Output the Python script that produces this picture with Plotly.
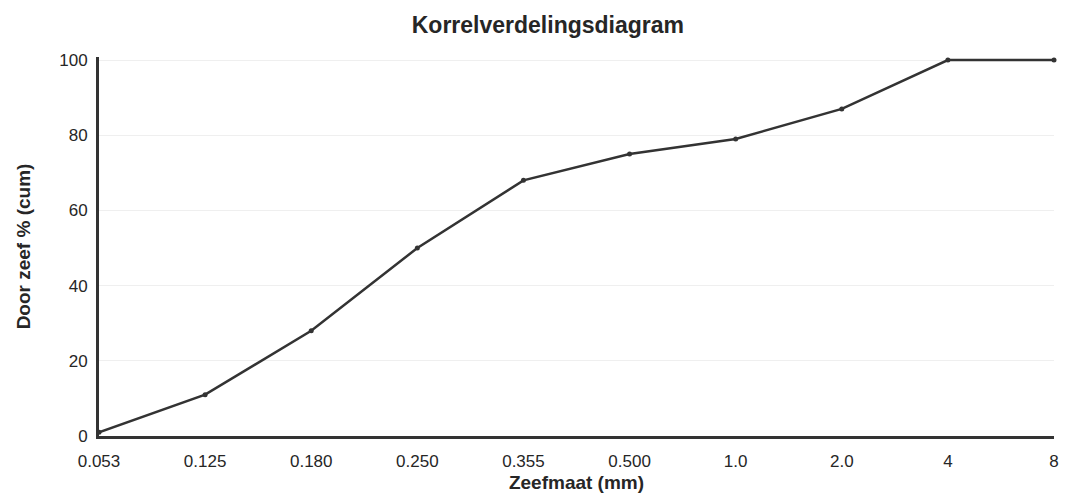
import plotly.graph_objects as go

sieve_sizes = ["0.053", "0.125", "0.180", "0.250", "0.355", "0.500", "1.0", "2.0", "4", "8"]
passing_cum = [1, 11, 28, 50, 68, 75, 79, 87, 100, 100]
y_ticks = [0, 20, 40, 60, 80, 100]

ink = "#333333"
text_ink = "#262626"
font_family = "Liberation Sans, Arial, sans-serif"

fig = go.Figure()
fig.add_trace(go.Scatter(
    x=sieve_sizes, y=passing_cum, mode="lines+markers",
    line=dict(color=ink, width=2.5),
    marker=dict(color=ink, size=5),
    showlegend=False, cliponaxis=False,
))

fig.update_layout(
    width=1068, height=500,
    margin=dict(l=99, r=9, t=57, b=63),
    paper_bgcolor="white", plot_bgcolor="white",
    font=dict(family=font_family, color=text_ink, size=17),
    title=dict(text="<b>Korrelverdelingsdiagram</b>", x=0.513, xanchor="center",
               y=0.95, yanchor="middle", font=dict(size=23, color=text_ink)),
    xaxis=dict(
        type="category", range=[0, 9],
        showline=True, linecolor=ink, linewidth=3,
        showgrid=False, ticks="outside", ticklen=8, tickcolor="white",
        zeroline=False,
        tickfont=dict(size=17, color=text_ink),
        title=dict(text="<b>Zeefmaat (mm)</b>", font=dict(size=19, color=text_ink), standoff=6),
    ),
    yaxis=dict(
        range=[0, 100.8], tickvals=y_ticks,
        showline=True, linecolor=ink, linewidth=3,
        showgrid=True, gridcolor="#efefef", gridwidth=1,
        zeroline=False, ticks="outside", ticklen=5, tickcolor="white",
        tickfont=dict(size=17, color=text_ink),
        title=dict(text="<b>Door zeef % (cum)</b>", font=dict(size=19, color=text_ink), standoff=24),
    ),
)

fig.write_html("out.html")
